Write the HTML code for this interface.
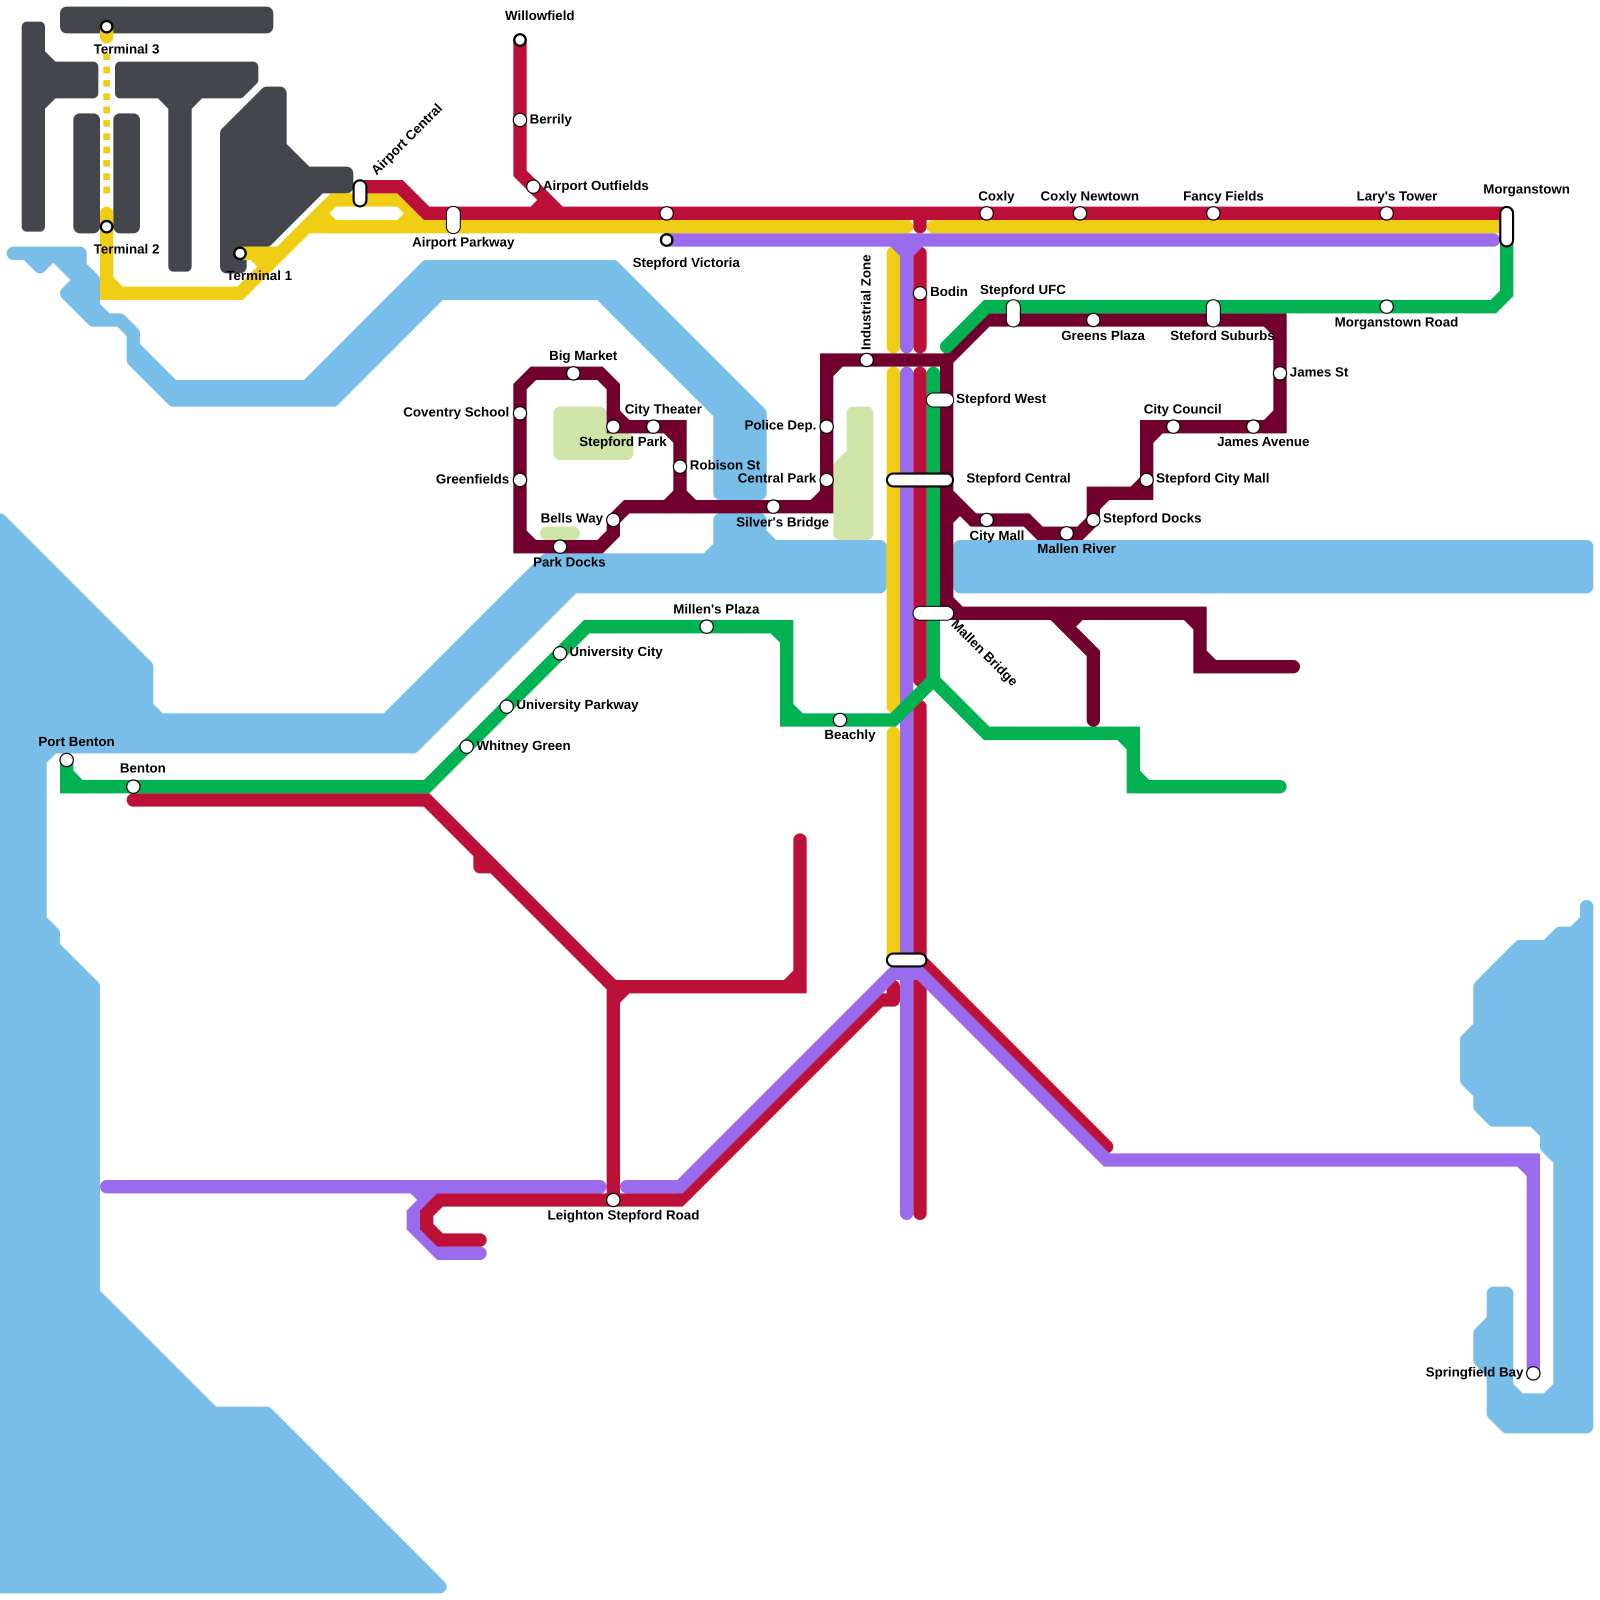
<!DOCTYPE html>
<html><head><meta charset="utf-8"><title>Metro map</title>
<style>
html,body{margin:0;padding:0;background:#fff}
svg{display:block;width:1600px;height:1600px}
text{font-family:"Liberation Sans",sans-serif;font-weight:700;font-size:13.07px;fill:#000;text-rendering:geometricPrecision}
.m{text-anchor:middle}.e{text-anchor:end}
</style></head><body>
<svg xmlns="http://www.w3.org/2000/svg" viewBox="0 0 1568 1568">
<rect width="1568" height="1568" fill="#fff"/>
<g transform="scale(13.0667)">
<!-- water -->
<g fill="#79bde9" stroke="#79bde9" stroke-width="1" stroke-linejoin="round">
<polygon points="0,39 11,50 11,53 12,54 29,54 41,42 53,42 54,41 54,39 57,39 57,40 58,41 66,41 66,44 43,44 31,56 4,56 3,57 3,69 4,70 4,71 7,74 7,97 16,106 20,106 33,119 0,119"/>
<polygon points="72,41 119,41 119,44 72,44"/>
<polygon points="1,19 6,19 6,20 7,21 7,23 8,24 9,24 10,25 10,26 13,29 23,29 32,20 46,20 57,31 57,37 54,37 54,31 45,22 33,22 25,30 13,30 10,27 10,25 9,24 7,24 5,22 6,21 4,19 3,20 2,19"/>
<polygon points="119,68 119,69 118,70 117,70 116,71 114,71 111,74 111,77 110,78 110,81 111,82 111,83 112,84 115,84 116,85 116,86 117,87 117,104 116,105 114,105 113,104 113,97 112,97 112,99 111,100 111,102 112,103 112,106 113,107 119,107"/>
</g>
<!-- parks -->
<g fill="#cfe4a7" stroke="#cfe4a7" stroke-width="1" stroke-linejoin="round">
<polygon points="42,31 45,31 45,33 47,33 47,34 42,34"/>
<polygon points="41,40 43,40 43,40 41,40"/>
<polygon points="64,31 65,31 65,40 63,40 63,35 64,34"/>
</g>
<!-- airport -->
<g fill="#43464d" stroke="#43464d" stroke-linejoin="round">
<polygon stroke-width=".75" points="2,2 3,2 3,4 4,5 7,5 7,7 4,7 3,8 3,17 2,17"/>
<polygon stroke-width="1" points="5,1 20,1 20,2 5,2"/>
<polygon stroke-width="1" points="6,9 7,9 7,17 6,17"/>
<polygon stroke-width="1" points="9,9 10,9 10,17 9,17"/>
<polygon stroke-width=".75" points="9,5 19,5 19,6 18,7 15,7 14,8 14,20 13,20 13,8 12,7 9,7"/>
<polygon stroke-width="1" points="17,10 20,7 21,7 21,11 23,13 26,13 26,14 24,14 20,18 18,18 18,20 17,20"/>
</g>
<!-- lines -->
<g fill="none" stroke-width="1" stroke-linecap="round" stroke-linejoin="miter" stroke-miterlimit="4">
<g stroke="#f0ce15">
<path d="M8 2V2.75"/>
<path d="M8 4V14.5" stroke-width=".5" stroke-linecap="butt" stroke-dasharray=".5 .5"/>
<path d="M8 16V22H18L23 17H68"/>
<path d="M8 21L9 22"/>
<path d="M70 17H113"/>
<path d="M18 19H21L25 15H30L32 17"/>
<path d="M19 19L20 20M24 16L25 17M31 16L30 17"/>
<path d="M67 19V26M67 28V53M67 55V72"/>
</g>
<path stroke="#9b6bee" d="M33 89L32 90L31 89M32 90L31 91V92L33 94H36"/>
<g stroke="#bd1038">
<path d="M27 14H30L32 16H113"/>
<path d="M39 3V13L42 16M40 16L41 15"/>
<path d="M69 16V17"/>
<path d="M69 19V26M69 28V51M69 53V91"/>
<path d="M10 60H32L46 74"/>
<path d="M36 64V65H37" stroke-linejoin="round"/>
<path d="M46 90V74H60V63M46 75L47 74M59 74L60 73"/>
<path d="M36 93H33L32 92V91L33 90H51L66 75"/>
<path d="M66 75H67V74" stroke-linejoin="round"/>
<path d="M69 72L83 86"/>
</g>
<g stroke="#9b6bee">
<path d="M50 18H112"/>
<path d="M67 18L68 19L69 18M68 18V26M68 28V72"/>
<path d="M8 89H45M47 89H51L67 73H69L83 87H115V103"/>
<path d="M114 87L115 88"/>
<path d="M68 73V91"/>
</g>
<g stroke="#72002e">
<path d="M71 46V27L74 24H96V32H86V37H82V39L81 40H78L77 39H73L71 37"/>
<path d="M95 24L96 25M96 31L95 32M86 33L87 32M85 37L86 36M82 38L83 37M71 39L72 38"/>
<path d="M71 27H62V38H47L46 39V40L45 41H39V29L40 28H45L46 29V32H51V38"/>
<path d="M62 28L63 27M61 38L62 37M39 40L40 41M46 31L47 32M50 32L51 33M50 38L51 37L52 38"/>
<path d="M71 46H90V50H97M71 45L72 46M89 46L90 47M90 49L91 50"/>
<path d="M79 46L82 49V54M81 46L80 47"/>
</g>
<g stroke="#00b251">
<path d="M5 57V59H32L44 47H59V54H67L70 51V28"/>
<path d="M5 58L6 59M58 47L59 48M59 53L60 54"/>
<path d="M70 51L74 55H85V59H96M84 55L85 56M85 58L86 59"/>
<path d="M71 26L74 23H112L113 22V18"/>
</g>
</g>
<!-- plain stations -->
<g fill="#fff" stroke="#000" stroke-width=".09">
<circle cx="39" cy="9" r=".5"/><circle cx="40" cy="14" r=".5"/><circle cx="50" cy="16" r=".5"/>
<circle cx="74" cy="16" r=".5"/><circle cx="81" cy="16" r=".5"/><circle cx="91" cy="16" r=".5"/><circle cx="104" cy="16" r=".5"/>
<circle cx="69" cy="22" r=".5"/><circle cx="82" cy="24" r=".5"/><circle cx="104" cy="23" r=".5"/><circle cx="96" cy="28" r=".5"/>
<circle cx="88" cy="32" r=".5"/><circle cx="94" cy="32" r=".5"/><circle cx="86" cy="36" r=".5"/><circle cx="82" cy="39" r=".5"/>
<circle cx="80" cy="40" r=".5"/><circle cx="74" cy="39" r=".5"/><circle cx="65" cy="27" r=".5"/><circle cx="62" cy="32" r=".5"/>
<circle cx="62" cy="36" r=".5"/><circle cx="58" cy="38" r=".5"/><circle cx="51" cy="35" r=".5"/><circle cx="49" cy="32" r=".5"/>
<circle cx="46" cy="32" r=".5"/><circle cx="43" cy="28" r=".5"/><circle cx="39" cy="31" r=".5"/><circle cx="39" cy="36" r=".5"/>
<circle cx="46" cy="39" r=".5"/><circle cx="42" cy="41" r=".5"/><circle cx="53" cy="47" r=".5"/><circle cx="42" cy="49" r=".5"/>
<circle cx="38" cy="53" r=".5"/><circle cx="35" cy="56" r=".5"/><circle cx="63" cy="54" r=".5"/><circle cx="5" cy="57" r=".5"/>
<circle cx="10" cy="59" r=".5"/><circle cx="46" cy="90" r=".5"/><circle cx="115" cy="103" r=".5"/>
</g>
<!-- terminus stations -->
<g fill="#fff" stroke="#000" stroke-width=".17">
<circle cx="8" cy="2" r=".43"/><circle cx="8" cy="17" r=".43"/><circle cx="18" cy="19" r=".43"/>
<circle cx="39" cy="3" r=".43"/><circle cx="50" cy="18" r=".43"/>
</g>
<!-- interchange pills -->
<g fill="none" stroke-linecap="round">
<g stroke="#000" stroke-width="1.12">
<path d="M27 14V15M67 36H71M113 16V18M67 72H69"/>
<path d="M34 16V17M70 30H71M76 23V24M91 23V24M69 46H71"/>
</g>
<g stroke="#fff">
<path stroke-width=".8" d="M27 14V15M67 36H71M113 16V18M67 72H69"/>
<path stroke-width=".97" d="M34 16V17M70 30H71M76 23V24M91 23V24M69 46H71"/>
</g>
</g>
</g>
<!-- labels -->
<text class="m" x="529" y="19.5">Willowfield</text>
<text class="m" x="124" y="52.5">Terminal 3</text>
<text class="m" x="124" y="248.5">Terminal 2</text>
<text class="m" x="254" y="274.5">Terminal 1</text>
<text transform="translate(369 172) rotate(-45)">Airport Central</text>
<text class="m" x="454" y="241.5">Airport Parkway</text>
<text x="519" y="121">Berrily</text>
<text x="532" y="186">Airport Outfields</text>
<text class="m" x="672.5" y="261.5">Stepford Victoria</text>
<text class="m" x="976.5" y="196.5">Coxly</text>
<text class="m" x="1068" y="196.5">Coxly Newtown</text>
<text class="m" x="1199" y="196.5">Fancy Fields</text>
<text class="m" x="1369" y="196.5">Lary's Tower</text>
<text class="m" x="1496" y="189.5">Morganstown</text>
<text class="m" x="1002.5" y="288">Stepford UFC</text>
<text class="m" x="1081" y="333">Greens Plaza</text>
<text class="m" x="1198" y="333">Steford Suburbs</text>
<text class="m" x="1368.5" y="320">Morganstown Road</text>
<text x="1264" y="369">James St</text>
<text x="911.5" y="290">Bodin</text>
<text transform="translate(853 343) rotate(-90)">Industrial Zone</text>
<text x="937" y="395">Stepford West</text>
<text x="947" y="473">Stepford Central</text>
<text class="m" x="571.5" y="353">Big Market</text>
<text class="e" x="499" y="408">Coventry School</text>
<text class="e" x="499" y="474">Greenfields</text>
<text class="m" x="650" y="405">City Theater</text>
<text class="m" x="610.5" y="437">Stepford Park</text>
<text x="676" y="460">Robison St</text>
<text class="e" x="800" y="421">Police Dep.</text>
<text class="e" x="800" y="473">Central Park</text>
<text class="m" x="767" y="516">Silver's Bridge</text>
<text class="e" x="591" y="512">Bells Way</text>
<text class="m" x="558" y="555">Park Docks</text>
<text class="m" x="977" y="529">City Mall</text>
<text class="m" x="1055" y="542">Mallen River</text>
<text x="1081" y="512">Stepford Docks</text>
<text x="1133" y="473">Stepford City Mall</text>
<text class="m" x="1159" y="405">City Council</text>
<text class="m" x="1238" y="437">James Avenue</text>
<text transform="translate(931.5 612.5) rotate(45)">Mallen Bridge</text>
<text class="m" x="702" y="601">Millen's Plaza</text>
<text x="558" y="643">University City</text>
<text x="506" y="695">University Parkway</text>
<text x="467" y="735">Whitney Green</text>
<text class="m" x="75" y="731">Port Benton</text>
<text class="m" x="140" y="757">Benton</text>
<text class="m" x="833" y="724">Beachly</text>
<text class="m" x="611" y="1195">Leighton Stepford Road</text>
<text class="e" x="1493" y="1349">Springfield Bay</text>
</svg>
</body></html>
